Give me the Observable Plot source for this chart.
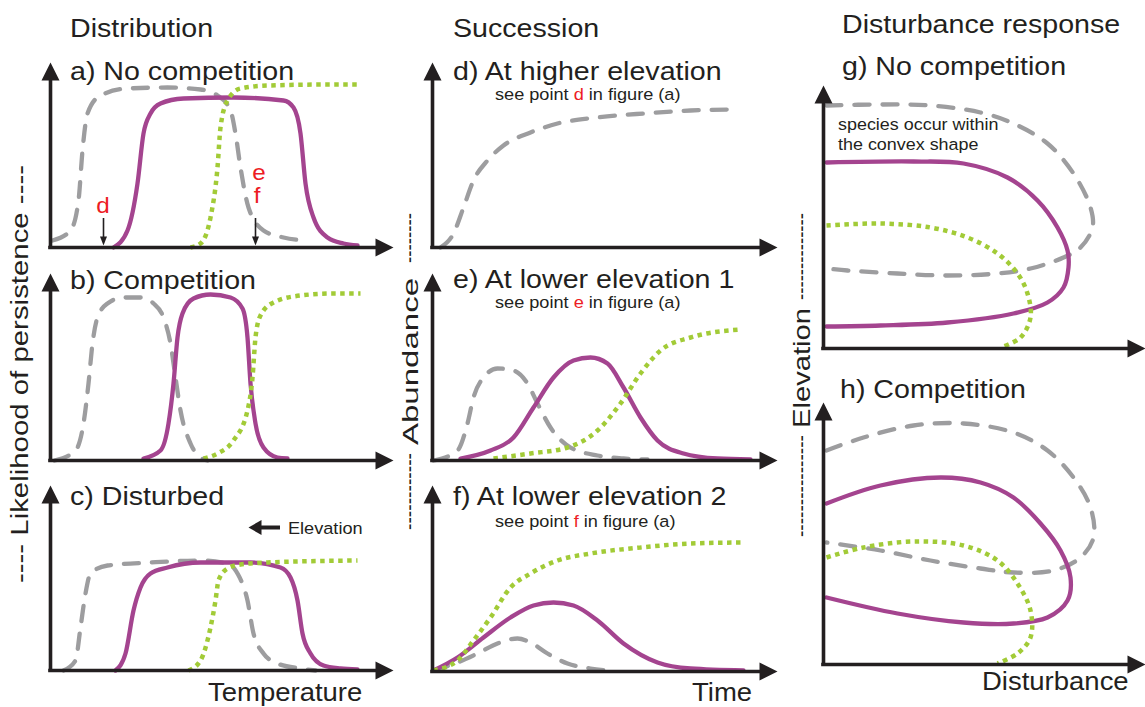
<!DOCTYPE html>
<html>
<head>
<meta charset="utf-8">
<script src="https://cdn.jsdelivr.net/npm/d3@7"></script>
<script src="https://cdn.jsdelivr.net/npm/@observablehq/plot@0.6"></script>
<style>
  html, body { margin: 0; padding: 0; background: #fff; }
  #wrap { position: relative; width: 1145px; height: 707px; overflow: hidden; background: #fff;
          font-family: "Liberation Sans", Arial, Helvetica, sans-serif; }
  #wrap svg { position: absolute; }
</style>
</head>
<body>
<div id="wrap"></div>
<script>
// ---------- data (units, origin = axis corner) ----------
// Distribution panels (x: temperature, y: likelihood of persistence)
const aGray  = [[2,7],[20,17],[28,47],[32,97],[37,134],[50,152],[77,159],[117,160],[150,158],[167,152],[180,137],[185,114],[190,80],[198,40],[213,17],[233,10],[253,7]];
const aMag   = [[63,0],[77,17],[87,64],[93,114],[100,134],[110,144],[133,149],[183,150],[233,147],[243,140],[250,114],[255,64],[263,30],[277,10],[293,4],[307,2]];
const aGreen = [[140,0],[150,4],[160,30],[167,80],[170,120],[177,147],[190,159],[217,162],[283,163],[310,163]];

const bGray  = [[4,0],[25,10],[33,37],[38,77],[42,117],[47,143],[57,157],[73,163],[90,163],[103,157],[113,143],[120,117],[125,83],[130,50],[140,17],[150,3],[157,0]];
const bMag   = [[93,2],[110,10],[118,37],[123,77],[127,123],[132,147],[143,162],[160,166],[180,163],[192,152],[197,123],[200,77],[205,37],[213,13],[227,3],[237,2]];
const bGreen = [[153,2],[167,7],[183,20],[197,50],[202,83],[205,123],[210,145],[223,158],[250,165],[283,167],[310,167]];

const cGray  = [[13,0],[25,10],[30,43],[35,77],[40,97],[57,105],[100,108],[150,110],[177,107],[187,97],[197,70],[203,37],[213,17],[227,7],[250,2],[265,0]];
const cMag   = [[65,0],[75,17],[83,60],[90,83],[100,97],[117,103],[150,108],[200,108],[230,103],[240,93],[247,70],[252,37],[260,17],[273,5],[290,2],[307,1]];
const cGreen = [[138,0],[150,10],[160,43],[165,70],[168,90],[177,102],[190,106],[217,108],[307,110]];

// Succession panels (x: time, y: abundance)
const dGray  = [[8,0],[21,14],[31,40],[41,67],[55,87],[71,102],[98,115],[125,124],[165,130],[211,134],[258,137],[298,138]];

const eGray  = [[1,0],[25,10],[35,37],[41,63],[51,83],[65,92],[81,90],[95,77],[105,57],[118,33],[138,13],[165,5],[191,2],[215,1]];
const eMag   = [[28,2],[58,10],[81,23],[101,53],[121,83],[141,100],[158,103],[175,97],[191,73],[208,43],[225,20],[251,7],[285,2],[318,1]];
const eGreen = [[61,2],[98,7],[135,13],[165,30],[188,57],[208,87],[228,110],[258,123],[308,131]];

const fGray  = [[1,1],[25,9],[45,18],[65,28],[85,33],[98,29],[115,18],[135,8],[158,3],[175,1]];
const fMag   = [[1,1],[25,14],[51,34],[78,54],[101,66],[121,69],[141,66],[165,51],[191,28],[225,9],[258,3],[311,1]];
const fGreen = [[1,1],[25,11],[41,31],[58,54],[78,84],[98,98],[125,111],[158,118],[208,124],[258,128],[308,129]];

// Disturbance response panels (x: disturbance, y: elevation) - outlines of convex shapes
const gGray  = [[3,243],[57,244],[107,243],[157,236],[190,225],[224,205],[250,175],[267,141],[269,121],[257,101],[240,91],[207,80],[174,75],[124,73],[74,75],[24,78],[3,80]];
const gMag   = [[3,186],[90,187],[140,185],[184,171],[214,148],[234,121],[244,98],[245,81],[240,61],[224,46],[190,35],[124,26],[57,23],[3,22]];
const gGreen = [[3,123],[57,125],[107,121],[144,111],[174,95],[194,75],[204,55],[207,31],[197,11],[177,1]];

const hGray  = [[3,214],[40,227],[90,239],[140,241],[190,232],[224,214],[250,187],[267,157],[270,127],[257,107],[230,94],[190,92],[157,96],[107,104],[57,114],[3,122]];
const hMag   = [[3,161],[57,179],[117,187],[157,182],[190,167],[217,141],[237,114],[247,87],[244,64],[224,47],[190,41],[140,42],[74,51],[3,67]];
const hGreen = [[3,107],[40,117],[90,123],[140,119],[174,104],[194,81],[207,54],[207,27],[194,11],[174,1]];

// annotation anchors in panel a (x positions of points d and e/f)
const markD = 53, markF = 205;

// ---------- styles ----------
const INK = "#231f20", RED = "#ed1c24";
const styles = {
  gray:  {stroke: "#9d9d9f", strokeWidth: 4.3, strokeDasharray: "15,13", strokeLinecap: "round"},
  mag:   {stroke: "#a4448f", strokeWidth: 4.3},
  green: {stroke: "#a2cb37", strokeWidth: 4.5, strokeDasharray: "4.5,4.5", strokeLinecap: "butt", strokeLinejoin: "miter"}
};
const head = (w, h) => ({ draw(ctx) { ctx.moveTo(0, 0); ctx.lineTo(-w / 2, h); ctx.lineTo(w / 2, h); ctx.closePath(); } });
const bigHead = head(18, 18), smallHead = head(7, 9), midHead = head(15, 13);

const wrap = document.getElementById("wrap");

function panel({ax, ay, tx, ty, series, curve = "monotone-x", extra = []}) {
  const W = tx - ax, H = ay - ty;
  const ml = 8, mr = 2, mt = 2, mb = 8;
  const marks = [
    ...series.map(([data, st]) => Plot.line(data, {curve, ...styles[st]})),
    ...extra,
    Plot.ruleX([0], {y1: -1.8, y2: H - 10, stroke: INK, strokeWidth: 3.6}),
    Plot.ruleY([0], {x1: -1.8, x2: W - 10, stroke: INK, strokeWidth: 3.6}),
    Plot.dot([[0, H]], {x: d => d[0], y: d => d[1], symbol: bigHead, r: 1, fill: INK, stroke: "none"}),
    Plot.dot([[W, 0]], {x: d => d[0], y: d => d[1], symbol: bigHead, r: 1, fill: INK, stroke: "none", rotate: 90})
  ];
  const p = Plot.plot({
    width: W + ml + mr, height: H + mt + mb,
    marginLeft: ml, marginRight: mr, marginTop: mt, marginBottom: mb,
    x: {domain: [0, W], axis: null}, y: {domain: [0, H], axis: null},
    style: {background: "none", overflow: "visible"},
    marks
  });
  p.style.left = (ax - ml) + "px";
  p.style.top = (ty - mt) + "px";
  wrap.appendChild(p);
}

const S = (a, b, c) => [[a, "gray"], [b, "mag"], [c, "green"]];

// a) with point markers d and e/f
panel({ax: 50, ay: 247, tx: 393, ty: 62, series: S(aGray, aMag, aGreen), extra: [
  Plot.ruleX([markD, markF], {y1: 8, y2: 29, stroke: INK, strokeWidth: 1.6}),
  Plot.dot([markD, markF], {x: d => d, y: 2, symbol: smallHead, r: 1, fill: INK, stroke: "none", rotate: 180})
]});
panel({ax: 50, ay: 460, tx: 393, ty: 273, series: S(bGray, bMag, bGreen)});
// c) with elevation arrow
panel({ax: 50, ay: 670, tx: 393, ty: 485, series: S(cGray, cMag, cGreen), extra: [
  Plot.ruleY([143], {x1: 208, x2: 230, stroke: INK, strokeWidth: 4}),
  Plot.dot([[198, 143]], {x: d => d[0], y: d => d[1], symbol: midHead, r: 1, fill: INK, stroke: "none", rotate: 270})
]});
panel({ax: 432, ay: 247, tx: 777, ty: 62, series: [[dGray, "gray"]]});
panel({ax: 432, ay: 460, tx: 777, ty: 273, series: S(eGray, eMag, eGreen)});
panel({ax: 432, ay: 671, tx: 777, ty: 485, series: S(fGray, fMag, fGreen)});
panel({ax: 823, ay: 348, tx: 1145, ty: 85, series: S(gGray, gMag, gGreen), curve: "catmull-rom"});
panel({ax: 823, ay: 664, tx: 1145, ty: 402, series: S(hGray, hMag, hGreen), curve: "catmull-rom"});

// ---------- text overlay ----------
const r = (c) => `<tspan fill="${RED}">${c}</tspan>`;
const titles = [
  [70, 37, "Distribution", 26], [70, 80, "a) No competition", 26], [70, 289, "b) Competition", 26],
  [70, 505, "c) Disturbed", 26], [208, 701, "Temperature", 25],
  [453, 37, "Succession", 26], [453, 80, "d) At higher elevation", 26],
  [453, 288, "e) At lower elevation 1", 26], [453, 505, "f) At lower elevation 2", 26], [692, 701, "Time", 25],
  [842, 33, "Disturbance response", 26], [842, 75, "g) No competition", 26], [840, 398, "h) Competition", 26],
  [982, 690, "Disturbance", 25],
  [495, 100, `see point ${r("d")} in figure (a)`, 16.5], [495, 308, `see point ${r("e")} in figure (a)`, 16.5],
  [495, 527, `see point ${r("f")} in figure (a)`, 16.5],
  [838, 130, "species occur within", 16.3], [838, 150, "the convex shape", 16.3],
  [288, 534, "Elevation", 16.5]
];
const letters = [[103, 213, "d"], [259, 180, "e"], [257, 203, "f"]];
// vertical labels: [baseline x, bottom y, length, text, font size]
const vlabels = [
  [28, 583, 418, "---- Likelihood of persistence ----", 23],
  [418, 445, 167, "Abundance", 22],
  [415.5, 263, 50, "--------", 20], [415.5, 530, 77, "------------", 20],
  [810, 428, 120, "Elevation", 24],
  [807.5, 300, 87, "--------------", 20], [807.5, 537, 102, "----------------", 20]
];
let svg = `<svg width="1145" height="707" style="left:0;top:0;pointer-events:none" font-family="Liberation Sans, Arial, sans-serif" fill="${INK}">`;
for (const [x, y, s, fs] of titles)
  svg += `<text transform="translate(${x},${y}) scale(1.1,1)" font-size="${fs}">${s}</text>`;
for (const [x, y, s] of letters)
  svg += `<text transform="translate(${x},${y}) scale(1.1,1)" font-size="22" fill="${RED}" text-anchor="middle">${s}</text>`;
for (const [x, y, len, s, fs] of vlabels)
  svg += `<text transform="translate(${x},${y}) rotate(-90)" font-size="${fs}" textLength="${len}" lengthAdjust="spacingAndGlyphs">${s}</text>`;
svg += `</svg>`;
wrap.insertAdjacentHTML("beforeend", svg);
</script>
</body>
</html>
